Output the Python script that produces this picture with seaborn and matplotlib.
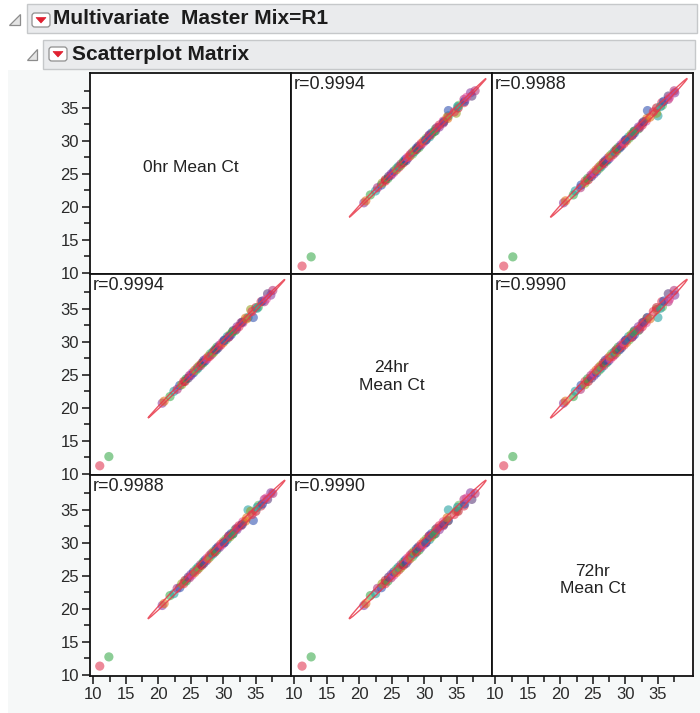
import numpy as np
import pandas as pd
import seaborn as sns
import matplotlib
matplotlib.use("Agg")
import matplotlib.pyplot as plt
from matplotlib.patches import Rectangle, FancyBboxPatch, Ellipse, Polygon
from matplotlib.ticker import FixedLocator, NullLocator

# ---------------- data ----------------
variables = ["0hr Mean Ct", "24hr Mean Ct", "72hr Mean Ct"]
diag_labels = ["0hr Mean Ct", "24hr\nMean Ct", "72hr\nMean Ct"]

ct_0hr = [11.0, 12.4,
          20.6, 20.9, 21.8, 22.4, 22.9, 23.3, 23.6, 23.9, 24.1, 24.3,
          24.6, 24.8, 25.0, 25.2, 25.4, 25.6, 25.8, 26.0, 26.1, 26.3,
          26.5, 26.7, 26.9, 27.0, 27.2, 27.4, 27.5, 27.7, 27.9, 28.0,
          28.2, 28.4, 28.5, 28.7, 28.9, 29.0, 29.2, 29.4, 29.6, 29.8,
          30.0, 30.2, 30.4, 30.6, 30.8, 31.0, 31.2, 31.5, 31.8, 32.1,
          32.4, 32.7, 33.0, 33.4, 33.8, 34.2, 34.6, 35.0, 35.4, 35.8,
          36.3, 36.8, 37.3, 37.6,
          30.1, 30.9, 31.4, 32.0, 32.9, 33.6, 34.4, 35.2, 36.0, 36.6]
ct_24hr = [11.2, 12.6,
           20.7, 21.0, 21.7, 22.5, 22.8, 23.4, 23.5, 24.0, 24.0, 24.4,
           24.5, 24.9, 24.9, 25.3, 25.3, 25.7, 25.7, 26.1, 26.0, 26.4,
           26.4, 26.8, 26.8, 27.2, 27.1, 27.5, 27.4, 27.8, 27.8, 28.2,
           28.1, 28.5, 28.4, 28.8, 28.8, 29.2, 29.1, 29.5, 29.5, 29.9,
           29.9, 30.3, 30.3, 30.8, 30.7, 31.1, 31.1, 31.7, 31.7, 32.3,
           32.3, 32.9, 32.9, 33.6, 33.7, 34.9, 33.7, 35.2, 35.3, 36.1,
           36.1, 37.3, 37.1, 37.8,
           30.2, 30.8, 31.5, 31.9, 33.0, 33.5, 34.6, 35.1, 36.2, 36.5]
ct_72hr = [11.3, 12.7,
           20.5, 20.8, 22.0, 22.3, 23.1, 23.2, 23.8, 23.8, 24.3, 24.2,
           24.8, 24.7, 25.2, 25.1, 25.6, 25.5, 26.0, 25.9, 26.3, 26.2,
           26.7, 26.6, 27.1, 26.9, 27.4, 27.3, 27.7, 27.6, 28.1, 27.9,
           28.4, 28.3, 28.7, 28.6, 29.1, 28.9, 29.4, 29.3, 29.8, 29.7,
           30.2, 30.1, 30.6, 30.5, 31.0, 30.9, 31.4, 31.4, 32.0, 32.0,
           32.6, 32.6, 33.2, 33.3, 35.0, 34.8, 33.4, 34.8, 35.7, 35.6,
           36.6, 36.6, 37.6, 37.5,
           30.0, 31.1, 31.3, 32.2, 32.8, 33.8, 34.3, 35.4, 35.9, 36.8]
sample_group = [0, 1,
                6, 4, 1, 7, 3, 2, 5, 0, 8, 1,
                9, 3, 6, 10, 2, 4, 11, 0, 7, 5,
                3, 8, 1, 9, 2, 6, 10, 4, 0, 11,
                3, 7, 5, 8, 2, 1, 9, 6, 0, 10,
                4, 3, 11, 7, 8, 5, 2, 9, 1, 6,
                0, 3, 10, 4, 7, 5, 2, 8, 11, 0,
                3, 9, 6, 3,
                2, 6, 1, 3, 9, 4, 0, 7, 2, 10]
r_values = [[None, 0.9994, 0.9988],
            [0.9994, None, 0.9990],
            [0.9988, 0.9990, None]]
tick_values = [10, 15, 20, 25, 30, 35]
minor_tick_values = [12.5, 17.5, 22.5, 27.5, 32.5, 37.5]

group_colors = ["#e0344f", "#3aaa4a", "#2f4fb0", "#b0307a", "#e0701a", "#9aa020",
                "#8a3aa0", "#20a0a0", "#c02030", "#5a3a7a", "#e04a9a", "#6abb5a"]

df = pd.DataFrame({variables[0]: ct_0hr, variables[1]: ct_24hr,
                   variables[2]: ct_72hr, "group": sample_group})
palette = {g: group_colors[g] for g in sorted(set(sample_group))}

# ---------------- style ----------------
sns.set_theme(style="white")
plt.rcParams["font.family"] = ["Liberation Sans", "DejaVu Sans"]

W, H = 700, 713
fig = plt.figure(figsize=(W / 100, H / 100), dpi=100)
fig.patch.set_facecolor("white")


def fx(x):
    return x / W


def fy(y):
    return 1 - y / H


# light background behind the matrix
fig.add_artist(Rectangle((fx(8), 0), fx(700) - fx(8), fy(70), transform=fig.transFigure,
                         fc="#f6f8f8", ec="none", zorder=0))

# header bars
for (x0, y0, x1, y1) in [(27, 4, 697, 33), (43, 40, 695, 69)]:
    fig.add_artist(Rectangle((fx(x0), fy(y1)), fx(x1) - fx(x0), fy(y0) - fy(y1),
                             transform=fig.transFigure, fc="#eaebed", ec="#c6c8ca",
                             lw=1.0, zorder=1))

# disclosure triangles
for (x0, y0, x1, y1) in [(9, 14, 20, 25), (27, 49, 37, 60)]:
    fig.add_artist(Polygon([(fx(x0), fy(y1)), (fx(x1), fy(y1)), (fx(x1), fy(y0))],
                           closed=True, transform=fig.transFigure, fc="#e4e4e4",
                           ec="#8c8c8c", lw=0.9, zorder=2))
# red menu buttons
for (x0, y0, x1, y1) in [(32, 13, 50, 27), (49, 47, 67, 61)]:
    fig.add_artist(FancyBboxPatch((fx(x0), fy(y1)), fx(x1) - fx(x0), fy(y0) - fy(y1),
                                  boxstyle="round,pad=0,rounding_size=0.004",
                                  transform=fig.transFigure, fc="white", ec="#8f8f8f",
                                  lw=0.9, zorder=2))
    cx, cy = (x0 + x1) / 2, (y0 + y1) / 2
    fig.add_artist(Polygon([(fx(cx - 5), fy(cy - 2.5)), (fx(cx + 5), fy(cy - 2.5)),
                            (fx(cx), fy(cy + 3))], closed=True,
                           transform=fig.transFigure, fc="#e02030", ec="#e02030",
                           lw=0.5, zorder=3))

fig.text(fx(53), fy(19), "Multivariate  Master Mix=R1", fontsize=15, fontweight="bold",
         color="#1c1c1c", ha="left", va="center", zorder=4)
fig.text(fx(72), fy(55), "Scatterplot Matrix", fontsize=15, fontweight="bold",
         color="#1c1c1c", ha="left", va="center", zorder=4)

# ---------------- scatterplot matrix ----------------
lefts = [90, 291, 492]
tops = [73, 274, 475]
size_px = 201
xlim = (9.5, 40.4)
ylim = (9.8, 40.3)
level = 0.88
chi = -2 * np.log(1 - level)
diag_y = [0.53, 0.49, 0.478]

for i in range(3):
    for j in range(3):
        ax = fig.add_axes([fx(lefts[j]), fy(tops[i] + size_px), size_px / W, size_px / H])
        ax.set_facecolor("white")
        ax.set_xlim(*xlim)
        ax.set_ylim(*ylim)
        for sp in ax.spines.values():
            sp.set_color("#111111")
            sp.set_linewidth(1.3)
            sp.set_visible(True)
        if i == j:
            ax.text(0.5, diag_y[i], diag_labels[i], transform=ax.transAxes, ha="center",
                    va="center", fontsize=12.5, color="#222222", linespacing=1.2)
        else:
            xv = df[variables[j]].to_numpy()
            yv = df[variables[i]].to_numpy()
            sns.scatterplot(data=df, x=variables[j], y=variables[i], hue="group",
                            palette=palette, legend=False, s=44, alpha=0.58,
                            linewidth=0, ax=ax, zorder=2)
            cov = np.cov(xv, yv)
            vals, vecs = np.linalg.eigh(cov)
            order = vals.argsort()[::-1]
            vals, vecs = vals[order], vecs[:, order]
            angle = np.degrees(np.arctan2(vecs[1, 0], vecs[0, 0]))
            ell = Ellipse((xv.mean(), yv.mean()), 2 * np.sqrt(chi * vals[0]),
                          2 * np.sqrt(chi * vals[1]), angle=angle, fill=False,
                          ec="#e8394a", lw=1.0, alpha=0.85, zorder=3)
            ax.add_patch(ell)
            ax.text(0.012, 0.985, f"r={r_values[i][j]:.4f}", transform=ax.transAxes,
                    ha="left", va="top", fontsize=13, color="#222222")
        ax.set_xlabel("")
        ax.set_ylabel("")
        # ticks
        if j == 0:
            ax.yaxis.set_major_locator(FixedLocator(tick_values))
            ax.yaxis.set_minor_locator(FixedLocator(minor_tick_values))
            ax.set_yticklabels([str(t) for t in tick_values])
            ax.tick_params(axis="y", which="major", left=True, length=6, width=1.1,
                           color="#111111", labelsize=12, labelcolor="#2a2a2a", pad=2)
            ax.tick_params(axis="y", which="minor", left=True, length=4, width=1.1,
                           color="#111111")
        else:
            ax.yaxis.set_major_locator(NullLocator())
            ax.yaxis.set_minor_locator(NullLocator())
        if i == 2:
            ax.xaxis.set_major_locator(FixedLocator(tick_values))
            ax.xaxis.set_minor_locator(FixedLocator(minor_tick_values))
            ax.set_xticklabels([str(t) for t in tick_values])
            ax.tick_params(axis="x", which="major", bottom=True, length=6, width=1.1,
                           color="#111111", labelsize=12, labelcolor="#2a2a2a", pad=2)
            ax.tick_params(axis="x", which="minor", bottom=True, length=4, width=1.1,
                           color="#111111")
        else:
            ax.xaxis.set_major_locator(NullLocator())
            ax.xaxis.set_minor_locator(NullLocator())
        ax.grid(False)

fig.savefig("out.png", dpi=100, facecolor=fig.get_facecolor())
